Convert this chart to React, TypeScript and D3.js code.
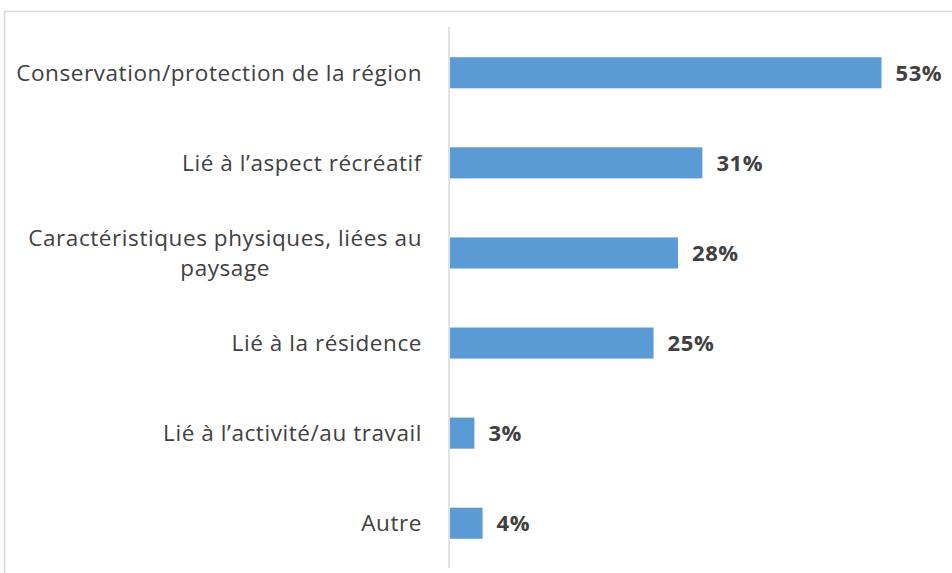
import React, { useEffect, useRef } from "react";
import * as d3 from "d3";

const categories: string[][] = [
  ["Conservation/protection de la région"],
  ["Lié à l\u2019aspect récréatif"],
  ["Caractéristiques physiques, liées au", "paysage"],
  ["Lié à la résidence"],
  ["Lié à l\u2019activité/au travail"],
  ["Autre"],
];
const values: number[] = [53, 31, 28, 25, 3, 4];
const valueLabels: string[] = ["53%", "31%", "28%", "25%", "3%", "4%"];

const W = 952;
const H = 573;
const FONT = "'Open Sans', 'Noto Sans', sans-serif";

export default function App() {
  const ref = useRef<SVGSVGElement>(null);

  useEffect(() => {
    const svg = d3.select(ref.current);
    svg.selectAll("*").remove();

    const x0 = 450;
    const x = d3.scaleLinear().domain([0, 53]).range([x0, 881.5]);
    const ids = categories.map((_, i) => String(i));
    const y = d3.scaleBand().domain(ids).range([27.5, 568.5]).paddingInner(0.655).paddingOuter(0.33);

    // outer border
    svg.append("path")
      .attr("d", `M4.5,${H} L4.5,11.5 L${W},11.5`)
      .attr("fill", "none")
      .attr("stroke", "#d9d9d9")
      .attr("stroke-width", 1.5);

    // bars
    svg.selectAll("rect.bar")
      .data(values)
      .join("rect")
      .attr("class", "bar")
      .attr("x", x(0))
      .attr("y", (_, i) => y(ids[i])!)
      .attr("width", (d) => x(d) - x(0))
      .attr("height", y.bandwidth())
      .attr("fill", "#5b9bd5");

    // axis line
    svg.append("line")
      .attr("x1", x0 - 1).attr("x2", x0 - 1)
      .attr("y1", 27).attr("y2", 568)
      .attr("stroke", "#d9d9d9")
      .attr("stroke-width", 1.5);

    // value labels
    svg.selectAll("text.val")
      .data(values)
      .join("text")
      .attr("class", "val")
      .attr("x", (d) => x(d) + 14)
      .attr("y", (_, i) => y(ids[i])! + y.bandwidth() / 2)
      .attr("dy", "0.36em")
      .attr("font-family", FONT)
      .attr("font-size", 22)
      .attr("letter-spacing", 0.6)
      .attr("font-weight", "bold")
      .attr("fill", "#404040")
      .text((_, i) => valueLabels[i]);

    // category labels
    const labelRight = 422;
    const lineH = 30;
    categories.forEach((lines, i) => {
      const cy = y(ids[i])! + y.bandwidth() / 2;
      const g = svg.append("g");
      const texts = lines.map((ln, j) =>
        g.append("text")
          .attr("y", cy + (j - (lines.length - 1) / 2) * lineH)
          .attr("dy", "0.36em")
          .attr("font-family", FONT)
          .attr("font-size", 22.5)
          .attr("letter-spacing", 0.57)
          .attr("fill", "#404040")
          .text(ln)
      );
      if (lines.length === 1) {
        texts[0].attr("x", labelRight).attr("text-anchor", "end");
      } else {
        const widths = texts.map((t) => (t.node() as SVGTextElement).getComputedTextLength());
        const maxW = Math.max(...widths);
        const cx = labelRight - maxW / 2;
        texts.forEach((t) => t.attr("x", cx).attr("text-anchor", "middle"));
      }
    });
  }, []);

  return (
    <svg
      ref={ref}
      width={W}
      height={H}
      style={{ position: "absolute", left: 0, top: 0, background: "#fff" }}
    />
  );
}
